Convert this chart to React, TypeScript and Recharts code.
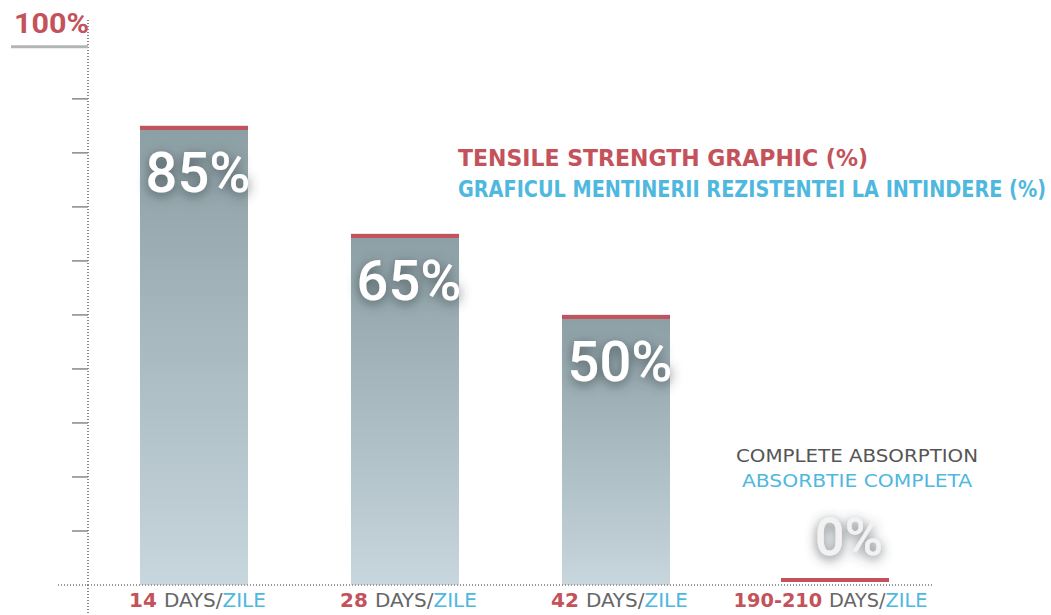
import React from 'react';
import { BarChart, Bar, XAxis, YAxis, ReferenceLine, LabelList } from 'recharts';

const categories = ['14', '28', '42', '190-210'];
const strength = [85, 65, 50, 0];
const yTicks = [0, 10, 20, 30, 40, 50, 60, 70, 80, 90, 100];
const titleEn = 'TENSILE STRENGTH GRAPHIC (%)';
const titleRo = 'GRAFICUL MENTINERII  REZISTENTEI LA INTINDERE (%)';
const noteEn = 'COMPLETE ABSORPTION';
const noteRo = 'ABSORBTIE COMPLETA';

const data = categories.map((c, i) => ({ days: c, value: strength[i] }));

const RED = '#c4525b';
const BLUE = '#4fb8de';
const GRAY = '#666';
const NARROW = "'Liberation Sans Narrow', 'DejaVu Sans Condensed', 'Roboto', sans-serif";

const YTick = (props: any) => {
  const { x, y, payload } = props;
  if (payload.value === 100) {
    return (
      <g>
        <line x1={x - 77} x2={x} y1={y + 2} y2={y + 2} stroke="#b5b5b5" strokeWidth={3} />
        <text x={x - 74} y={y - 12} fill={RED} fontFamily="Roboto, sans-serif" fontWeight={700} fontSize={28} textLength={75} lengthAdjust="spacingAndGlyphs">
          100%
        </text>
      </g>
    );
  }
  if (payload.value === 0) {
    // baseline stub left of the axis, and the axis running on below the baseline
    return (
      <g>
        <line x1={x - 30} x2={x} y1={y} y2={y} stroke="#999" strokeWidth={2} strokeDasharray="1 2" />
        <line x1={x} x2={x} y1={y} y2={y + 30} stroke="#888" strokeWidth={2} strokeDasharray="1 2" />
      </g>
    );
  }
  return <line x1={x - 16} x2={x} y1={y} y2={y} stroke="#888" strokeWidth={1.5} />;
};

const XTick = (props: any) => {
  const { x, y, payload } = props;
  const label = `${payload.value} DAYS/ZILE`;
  return (
    <text x={x + 4} y={y + 22} textAnchor="middle" fontFamily={NARROW} fontSize={19} textLength={label.length * 11.4} lengthAdjust="spacingAndGlyphs">
      <tspan fill={RED} fontWeight={700}>{payload.value} </tspan>
      <tspan fill={GRAY}>DAYS/</tspan>
      <tspan fill={BLUE}>ZILE</tspan>
    </text>
  );
};

const BarShape = (props: any) => {
  const { x, y, width, height } = props;
  if (!height || height <= 0) return null;
  return (
    <g>
      <rect x={x} y={y} width={width} height={height} fill="url(#barGrad)" />
      <rect x={x} y={y} width={width} height={4} fill={RED} />
    </g>
  );
};

const BarLabel = (props: any) => {
  const { x, y, width, value } = props;
  const cx = x + width / 2;
  if (value === 0) {
    return (
      <g>
        <text x={cx + 30} y={y - 123} textAnchor="middle" fill="#555" fontFamily={NARROW} fontSize={18} textLength={242} lengthAdjust="spacingAndGlyphs">
          {noteEn}
        </text>
        <text x={cx + 30} y={y - 98} textAnchor="middle" fill={BLUE} fontFamily={NARROW} fontSize={18} textLength={230} lengthAdjust="spacingAndGlyphs">
          {noteRo}
        </text>
        <text x={cx + 22} y={y - 30} textAnchor="middle" fill="#f2f2f2" fontFamily="Roboto, sans-serif" fontWeight={500} fontSize={52} filter="url(#txtShadow)">
          {value}%
        </text>
        <rect x={x + 8} y={y - 7} width={width} height={4} fill={RED} />
      </g>
    );
  }
  return (
    <text x={cx + 4} y={y + 66} textAnchor="middle" fill="#fff" fontFamily="Roboto, sans-serif" fontWeight={500} fontSize={56} filter="url(#txtShadow)">
      {value}%
    </text>
  );
};

export default function App() {
  return (
    <div style={{ position: 'absolute', left: 0, top: 0, width: 1051, height: 615, background: '#fff', overflow: 'hidden' }}>
      <svg width={0} height={0} style={{ position: 'absolute' }}>
        <defs>
          <linearGradient id="barGrad" x1="0" y1="0" x2="0" y2="1">
            <stop offset="0%" stopColor="#8c9fa4" />
            <stop offset="100%" stopColor="#c8d6de" />
          </linearGradient>
          <filter id="txtShadow" x="-40%" y="-60%" width="180%" height="220%">
            <feDropShadow dx="0" dy="3" stdDeviation="6" floodColor="#3c4a4e" floodOpacity="0.85" />
          </filter>
        </defs>
      </svg>
      <BarChart width={1051} height={615} data={data} margin={{ top: 20, right: 119, bottom: 0, left: 0 }}>
        <XAxis dataKey="days" height={30} tickSize={0} tickMargin={0} tickLine={false} axisLine={false} tick={<XTick />} interval={0} />
        <YAxis
          type="number"
          domain={[0, 104.6]}
          ticks={yTicks}
          width={88}
          tickSize={0}
          tickMargin={0}
          tickLine={false}
          axisLine={{ stroke: '#888', strokeWidth: 2, strokeDasharray: '1 2' }}
          tick={<YTick />}
          interval={0}
          allowDataOverflow
        />
        <ReferenceLine y={0} stroke="#999" strokeWidth={2} strokeDasharray="1 2" />
        <Bar dataKey="value" barSize={108} shape={<BarShape />} isAnimationActive={false}>
          <LabelList dataKey="value" content={<BarLabel />} />
        </Bar>
      </BarChart>
      <svg width={1051} height={615} style={{ position: 'absolute', left: 0, top: 0, pointerEvents: 'none' }}>
        <text x={458} y={166} fill={RED} fontFamily={NARROW} fontWeight={700} fontSize={23} textLength={410} lengthAdjust="spacingAndGlyphs">
          {titleEn}
        </text>
        <text x={458} y={197} fill={BLUE} fontFamily={NARROW} fontWeight={700} fontSize={23} textLength={588} lengthAdjust="spacingAndGlyphs">
          {titleRo}
        </text>
      </svg>
    </div>
  );
}
